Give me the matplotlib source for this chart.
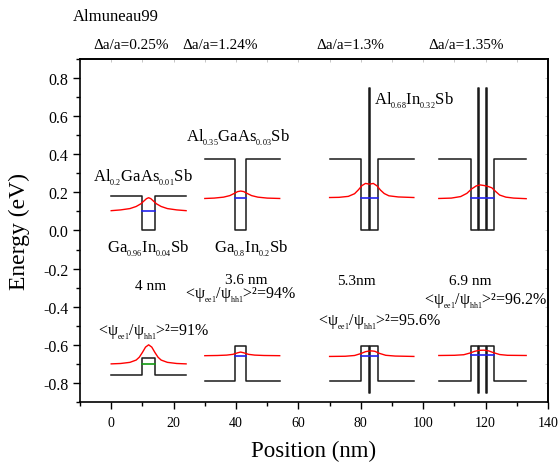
import matplotlib
matplotlib.use('Agg')
import matplotlib.pyplot as plt
from matplotlib.ticker import MultipleLocator, FormatStrFormatter

plt.rcParams['font.family'] = ['Liberation Serif', 'DejaVu Serif']
plt.rcParams['mathtext.fontset'] = 'custom'
plt.rcParams['mathtext.rm'] = 'Liberation Serif'
plt.rcParams['mathtext.default'] = 'regular'

# band edge profiles (nm, eV)
cb1_x = [0, 10, 10, 14, 14, 24]
cb1_e = [0.18, 0.18, 0.0, 0.0, 0.18, 0.18]
vb1_x = [0, 10, 10, 14, 14, 24]
vb1_e = [-0.757, -0.757, -0.671, -0.671, -0.757, -0.757]

cb2_x = [30, 39.6, 39.6, 43.2, 43.2, 54]
cb2_e = [0.373, 0.373, 0.0, 0.0, 0.373, 0.373]
vb2_x = [30, 39.6, 39.6, 43.2, 43.2, 54]
vb2_e = [-0.791, -0.791, -0.607, -0.607, -0.791, -0.791]

cb3_x = [70, 80.2, 80.2, 82.7, 82.7, 83.0, 83.0, 85.5, 85.5, 97]
cb3_e = [0.376, 0.376, 0.0, 0.0, 0.746, 0.746, 0.0, 0.0, 0.376, 0.376]
vb3_x = [70, 80.2, 80.2, 82.7, 82.7, 83.0, 83.0, 85.5, 85.5, 97]
vb3_e = [-0.791, -0.791, -0.607, -0.607, -0.852, -0.852, -0.607, -0.607, -0.791, -0.791]

cb4_x = [105, 115.4, 115.4, 117.5, 117.5, 117.8, 117.8, 120.1, 120.1, 120.4, 120.4, 122.7, 122.7, 133]
cb4_e = [0.376, 0.376, 0.0, 0.0, 0.746, 0.746, 0.0, 0.0, 0.746, 0.746, 0.0, 0.0, 0.376, 0.376]
vb4_x = [105, 115.4, 115.4, 117.5, 117.5, 117.8, 117.8, 120.1, 120.1, 120.4, 120.4, 122.7, 122.7, 133]
vb4_e = [-0.791, -0.791, -0.607, -0.607, -0.852, -0.852, -0.607, -0.607, -0.852, -0.852, -0.607, -0.607, -0.791, -0.791]

# confined levels: (x_start, x_end, energy)
lev_cb = [(10, 14, 0.100), (39.6, 43.2, 0.170), (80.2, 85.5, 0.173), (115.4, 122.7, 0.168)]
lev_vb = [(39.6, 43.2, -0.660), (80.2, 85.5, -0.657), (115.4, 122.7, -0.656)]
lev_vb1 = (10, 14, -0.700)

# probability densities
wf_c1_x = [0, 3, 6, 8, 9.5, 10.5, 11.3, 12, 12.7, 13.5, 14.5, 16, 18, 21, 24]
wf_c1_e = [0.104, 0.108, 0.115, 0.126, 0.140, 0.155, 0.167, 0.172, 0.167, 0.155, 0.140, 0.126, 0.115, 0.108, 0.104]
wf_v1_x = [0, 3, 6, 8, 9, 10, 11, 12, 13, 14, 15, 16, 18, 21, 24]
wf_v1_e = [-0.700, -0.698, -0.692, -0.680, -0.665, -0.640, -0.612, -0.600, -0.612, -0.640, -0.665, -0.680, -0.692, -0.698, -0.700]

wf_c2_x = [30, 33, 36, 38, 39.5, 40.5, 41.5, 42.5, 43.5, 45, 47, 50, 54]
wf_c2_e = [0.168, 0.170, 0.175, 0.183, 0.195, 0.204, 0.207, 0.204, 0.195, 0.183, 0.175, 0.170, 0.168]
wf_v2_x = [30, 34, 37, 39, 40.5, 41.5, 42.5, 44, 46, 49, 54]
wf_v2_e = [-0.657, -0.656, -0.654, -0.650, -0.642, -0.638, -0.642, -0.650, -0.654, -0.656, -0.657]

wf_c3_x = [70, 73, 76, 78, 79.2, 80.4, 81.5, 82.8, 84, 85.2, 86.3, 87.5, 89, 92, 97]
wf_c3_e = [0.173, 0.174, 0.179, 0.193, 0.213, 0.236, 0.247, 0.243, 0.247, 0.234, 0.212, 0.194, 0.182, 0.176, 0.173]
wf_v3_x = [70, 75, 78, 80, 81.5, 82.5, 83.5, 84.5, 86, 88, 91, 97]
wf_v3_e = [-0.661, -0.660, -0.656, -0.646, -0.636, -0.633, -0.632, -0.634, -0.645, -0.655, -0.659, -0.661]

wf_c4_x = [105, 109, 112, 114, 115.5, 117, 118.3, 119.5, 120.8, 122, 123.2, 124.5, 126.5, 129, 133]
wf_c4_e = [0.168, 0.170, 0.178, 0.195, 0.218, 0.234, 0.239, 0.236, 0.231, 0.224, 0.205, 0.186, 0.175, 0.170, 0.167]
wf_v4_x = [105, 110, 113, 115, 116.5, 118, 119.5, 121, 122.5, 124.5, 127, 133]
wf_v4_e = [-0.656, -0.655, -0.652, -0.643, -0.634, -0.629, -0.628, -0.632, -0.641, -0.651, -0.655, -0.656]

strain_labels = ['Δa/a=0.25%', 'Δa/a=1.24%', 'Δa/a=1.3%', 'Δa/a=1.35%']
strain_x = [6.4, 35, 76.7, 113.7]
width_labels = ['4 nm', '3.6 nm', '5.3nm', '6.9 nm']
overlap_labels = ['<ψ$_{_{ee1}}$/ψ$_{_{hh1}}$>²=91%', '<ψ$_{_{ee1}}$/ψ$_{_{hh1}}$>²=94%',
                  '<ψ$_{_{ee1}}$/ψ$_{_{hh1}}$>²=95.6%', '<ψ$_{_{ee1}}$/ψ$_{_{hh1}}$>²=96.2%']

fig = plt.figure(figsize=(5.58, 4.64), dpi=100)
ax = fig.add_axes([0.1434, 0.1315, 0.8387, 0.7392])

black = '#1a1a1a'
for bx, be in [(cb1_x, cb1_e), (vb1_x, vb1_e), (cb2_x, cb2_e), (vb2_x, vb2_e),
               (cb3_x, cb3_e), (vb3_x, vb3_e), (cb4_x, cb4_e), (vb4_x, vb4_e)]:
    ax.plot(bx, be, color=black, lw=1.1)

for x0, x1, e in lev_cb + lev_vb:
    ax.plot([x0, x1], [e, e], color='#2222ee', lw=1.2)
ax.plot([lev_vb1[0], lev_vb1[1]], [lev_vb1[2], lev_vb1[2]], color='#119911', lw=1.2)

for wx, we in [(wf_c1_x, wf_c1_e), (wf_v1_x, wf_v1_e), (wf_c2_x, wf_c2_e), (wf_v2_x, wf_v2_e),
               (wf_c3_x, wf_c3_e), (wf_v3_x, wf_v3_e), (wf_c4_x, wf_c4_e), (wf_v4_x, wf_v4_e)]:
    ax.plot(wx, we, color='red', lw=1.0)

# material labels
ax.text(10.1, 0.279, 'Al$_{_{0.2}}$GaAs$_{_{0.01}}$Sb', fontsize=12, ha='center', va='center')
ax.text(12, -0.09, 'Ga$_{_{0.96}}$In$_{_{0.04}}$Sb', fontsize=12, ha='center', va='center')
ax.text(40.5, 0.49, 'Al$_{_{0.35}}$GaAs$_{_{0.03}}$Sb', fontsize=12, ha='center', va='center')
ax.text(45, -0.09, 'Ga$_{_{0.8}}$In$_{_{0.2}}$Sb', fontsize=12, ha='center', va='center')
ax.text(97, 0.685, 'Al$_{_{0.68}}$In$_{_{0.32}}$Sb', fontsize=12, ha='center', va='center')

width_pos = [(12.5, -0.288), (43.4, -0.255), (78.7, -0.263), (115, -0.263)]
for lab, (x, y) in zip(width_labels, width_pos):
    ax.text(x, y, lab, fontsize=11, ha='center', va='center')

overlap_pos = [(13.6, -0.53), (41.5, -0.335), (86, -0.478), (120, -0.366)]
for lab, (x, y) in zip(overlap_labels, overlap_pos):
    ax.text(x, y, lab, fontsize=11.5, ha='center', va='center')

for lab, x in zip(strain_labels, strain_x):
    ax.text(x, 0.978, lab, fontsize=11, ha='center', va='center', clip_on=False)
fig.text(73 / 558, 1 - 17 / 464, 'Almuneau99', fontsize=12, ha='left', va='center')

ax.set_xlim(-10, 140)
ax.set_ylim(-0.9, 0.9)
ax.xaxis.set_major_locator(MultipleLocator(20))
ax.xaxis.set_minor_locator(MultipleLocator(10))
ax.yaxis.set_major_locator(MultipleLocator(0.2))
ax.yaxis.set_minor_locator(MultipleLocator(0.1))
ax.yaxis.set_major_formatter(FormatStrFormatter('%.1f'))
ax.tick_params(which='major', direction='out', length=5, width=1.0)
ax.tick_params(which='minor', direction='out', length=3, width=1.0)
ax.tick_params(axis='x', labelsize=10, pad=5)
ax.tick_params(axis='y', labelsize=11.5)
for s in ax.spines.values():
    s.set_linewidth(1.2)

# faint ticks on the top and right frame
top = ax.secondary_xaxis('top')
top.xaxis.set_major_locator(MultipleLocator(10))
top.tick_params(direction='in', length=2, width=0.6, color='#bbbbbb', labeltop=False)
right = ax.secondary_yaxis('right')
right.yaxis.set_major_locator(MultipleLocator(0.1))
right.tick_params(direction='in', length=2, width=0.6, color='#bbbbbb', labelright=False)
top.spines['top'].set_linewidth(1.2)
right.spines['right'].set_linewidth(1.2)

ax.set_xlabel('Position (nm)', fontsize=16.5, labelpad=8)
ax.set_ylabel('Energy (eV)', fontsize=17, labelpad=9)

plt.savefig('out.png', dpi=100)
plt.close()
